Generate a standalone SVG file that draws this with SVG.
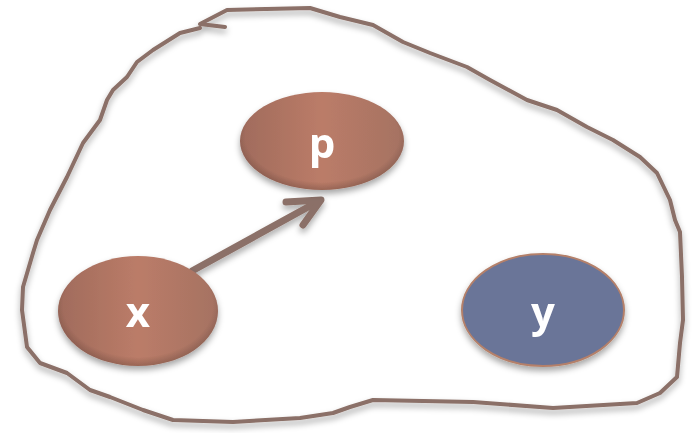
<svg xmlns="http://www.w3.org/2000/svg" width="692" height="433" viewBox="0 0 692 433">
  <defs>
    <style>
      .ink { fill: none; stroke: #8b7067; stroke-linecap: round; stroke-linejoin: round; }
      .lbl { font-family: "Open Sans", "Liberation Sans", sans-serif; font-weight: 700; font-size: 42px; fill: #ffffff; text-anchor: middle; }
    </style>
    <filter id="shadow" x="-20%" y="-20%" width="140%" height="150%">
      <feDropShadow dx="0" dy="4" stdDeviation="3" flood-color="#000000" flood-opacity="0.35"/>
    </filter>
    <linearGradient id="terra" x1="0" y1="0" x2="1" y2="0">
      <stop offset="0" stop-color="#a06b5c"/>
      <stop offset="0.5" stop-color="#bb7c68"/>
      <stop offset="1" stop-color="#a57262"/>
    </linearGradient>
    <radialGradient id="rim" cx="0.5" cy="0.45" r="0.55">
      <stop offset="0.85" stop-color="#000000" stop-opacity="0"/>
      <stop offset="1" stop-color="#000000" stop-opacity="0.18"/>
    </radialGradient>
  </defs>

  <!-- freehand boundary -->
  <g id="boundary" filter="url(#shadow)">
    <path class="ink" stroke-width="4" d="M225,27 L200,24 L227,10 L310,8 L340,17 L373,25 L403,42 L430,53 L467,67 L490,80 L527,100 L557,110 L587,127 L613,140 L640,157 L657,173 L670,200 L675,220 L680,232 L682,277 L683,320 L680,343 L677,377 L660,393 L637,403 L553,408 L473,402 L373,400 L350,407 L333,413 L300,418 L233,422 L173,420 L143,410 L110,397 L90,390 L67,373 L40,363 L27,347 L22,310 L23,287 L33,253 L37,240 L50,210 L67,177 L83,143 L100,120 L107,100 L113,90 L127,77 L137,62 L153,50 L180,33 L200,28"/>
  </g>

  <!-- connectors -->
  <g id="connectors" filter="url(#shadow)">
    <path class="ink" stroke-width="7" d="M192,271 L319,201"/>
    <path class="ink" stroke-width="7" d="M286,202 L321,200 L303,225"/>
  </g>

  <g id="node-p" filter="url(#shadow)">
    <ellipse cx="322" cy="141" rx="82" ry="49" fill="url(#terra)"/>
    <ellipse cx="322" cy="141" rx="82" ry="49" fill="url(#rim)"/>
    <text class="lbl" x="322" y="158">p</text>
  </g>

  <g id="node-x" filter="url(#shadow)">
    <ellipse cx="138" cy="311" rx="80" ry="55" fill="url(#terra)"/>
    <ellipse cx="138" cy="311" rx="80" ry="55" fill="url(#rim)"/>
    <text class="lbl" x="138" y="327">x</text>
  </g>

  <g id="node-y" filter="url(#shadow)">
    <ellipse cx="543" cy="310" rx="81" ry="56" fill="#6a7498" stroke="#b4806a" stroke-width="2"/>
    <text class="lbl" x="543" y="327">y</text>
  </g>
</svg>
